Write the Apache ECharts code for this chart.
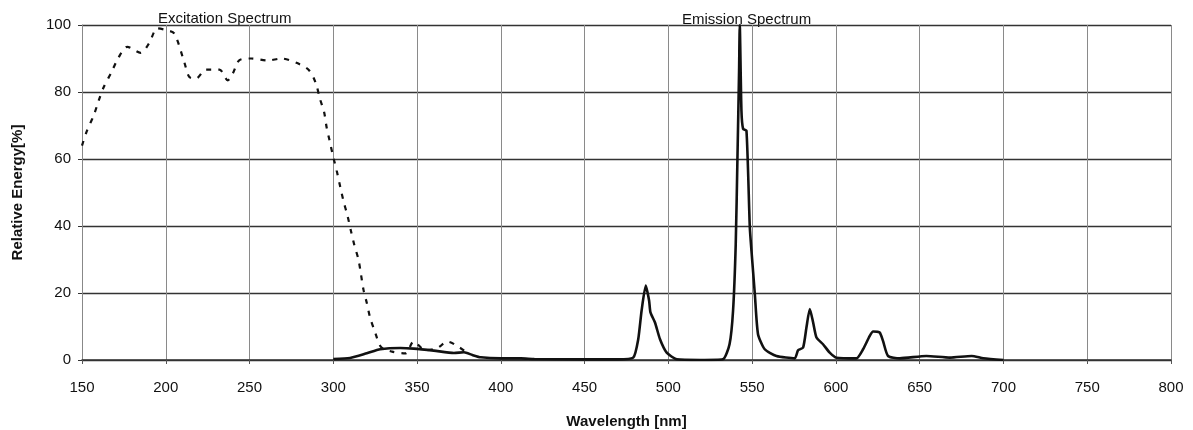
<html>
<head>
  <meta charset="utf-8">
  <title>Excitation / Emission Spectrum</title>
  <script src="https://cdn.jsdelivr.net/npm/echarts@6/dist/echarts.min.js"></script>
  <style>
    html,
    body {
      width: 100%;
      height: 100%;
      margin: 0;
      background: #fff;
    }

    #chart {
      width: 1193px;
      height: 430px;
    }
  </style>
</head>
<body>
  <div id="chart"></div>
  <script>
    // excitation spectrum (dashed)
    var excitationWl = [150, 153, 157, 160, 163, 167.5, 171.5, 177, 185, 190, 195, 200, 205, 211, 214, 218, 224, 232, 237, 240,
      244, 251, 261, 269, 278, 285.5, 289.5, 292, 294.5, 296, 298, 300, 302, 304, 306, 308.5, 310.5, 312.5, 315, 316.5,
      318, 320, 322, 325, 328.5, 335, 343, 348, 355, 362.5, 368, 375.5, 379.5];
    var excitationVal = [64, 68.5, 73, 77.5, 81.5, 85.8, 90, 93.5, 91.7, 94.5, 99, 98.5, 97.5, 89, 84.5, 84, 86.7, 86.7, 83.5, 85.5,
      89.5, 90, 89.4, 90, 88.7, 86.5, 82.7, 78, 74, 69.5, 65, 60.5, 56.6, 52, 47.6, 43, 38.6, 34.4, 30, 25.6,
      21, 17, 12.6, 8.2, 3.9, 2.5, 2, 5.5, 2.9, 3.7, 5.5, 3.7, 2.2];

    // emission spectrum (solid)
    var emissionWl = [300, 310, 320, 328, 340, 348, 360, 372, 378, 383, 388, 400, 412, 420, 450, 470, 479, 482, 484, 486.5,
      488.5, 489.3, 492, 495, 499, 505, 519, 532.5, 536.5, 538.6, 540.2, 541.2, 542.2, 542.6, 543.6, 544.6, 546.6, 548.6, 549.6, 551.6,
      553.5, 557.5, 564.5, 575.4, 577.4, 580.4, 582.4, 584.4, 586.4, 588.4, 592.3, 596.3, 600.3, 612.2, 616.2, 620.2, 622.2, 626.1, 628.1, 631.1,
      638.1, 654, 668, 681, 688, 700];
    var emissionVal = [0.3, 0.6, 2, 3.2, 3.6, 3.4, 2.8, 2.1, 2.3, 1.5, 0.8, 0.5, 0.5, 0.3, 0.2, 0.2, 0.7, 6.2, 14.7, 22.2,
      17.7, 14.2, 11.2, 6.2, 2.2, 0.2, 0, 0.2, 4.7, 14.7, 34.6, 59.6, 86.5, 100, 74.5, 69, 68.5, 39.6, 32.6, 19.7,
      7.7, 3.2, 1.2, 0.5, 2.9, 3.7, 9.7, 15.2, 11.2, 6.7, 4.7, 2.2, 0.7, 0.5, 3.2, 7.2, 8.5, 8.2, 5.7, 1.2,
      0.5, 1.2, 0.7, 1.2, 0.5, 0];

    var spectrumNames = ['Excitation Spectrum', 'Emission Spectrum'];

    function zip(xs, ys) {
      return xs.map(function (x, i) { return [x, ys[i]]; });
    }

    var font = 'Liberation Sans, Arial, sans-serif';
    var myChart = echarts.init(document.getElementById('chart'));

    var option = {
      animation: false,
      grid: { left: 82, right: 22, top: 25, bottom: 70, containLabel: false, outerBoundsMode: 'none' },
      xAxis: {
        type: 'value',
        min: 150,
        max: 800,
        interval: 50,
        name: 'Wavelength [nm]',
        nameLocation: 'middle',
        nameGap: 54,
        nameTextStyle: { fontFamily: font, fontSize: 15, fontWeight: 'bold', color: '#111' },
        axisLine: { onZero: false, lineStyle: { color: '#333', width: 1.5 } },
        axisTick: { show: true, length: 4, lineStyle: { color: '#555' } },
        axisLabel: { margin: 20, fontFamily: font, fontSize: 15, color: '#111' },
        splitLine: { show: true, lineStyle: { color: '#8a8a8a', width: 1 } }
      },
      yAxis: {
        type: 'value',
        min: 0,
        max: 100,
        interval: 20,
        name: 'Relative Energy[%]',
        nameLocation: 'middle',
        nameGap: 57,
        nameTextStyle: { fontFamily: font, fontSize: 15, fontWeight: 'bold', color: '#111' },
        axisLine: { show: true, lineStyle: { color: '#888', width: 1 } },
        axisTick: { show: true, length: 4, lineStyle: { color: '#333' } },
        axisLabel: { margin: 11, fontFamily: font, fontSize: 15, color: '#111' },
        splitLine: { show: true, lineStyle: { color: '#333', width: 1.3 } }
      },
      graphic: [
        {
          type: 'text', left: 158, top: 11,
          style: { text: spectrumNames[0], fontFamily: font, fontSize: 15, fill: '#111' }
        },
        {
          type: 'text', left: 682, top: 12,
          style: { text: spectrumNames[1], fontFamily: font, fontSize: 15, fill: '#111' }
        }
      ],
      series: [
        {
          name: spectrumNames[0],
          type: 'line',
          data: zip(excitationWl, excitationVal),
          showSymbol: false,
          smooth: 0.3,
          lineStyle: { color: '#111', width: 2.2, type: [5, 7] },
          z: 3
        },
        {
          name: spectrumNames[1],
          type: 'line',
          data: zip(emissionWl, emissionVal),
          showSymbol: false,
          smooth: 0.2,
          lineStyle: { color: '#111', width: 2.6 },
          z: 4
        }
      ]
    };
    myChart.setOption(option);
  </script>
</body>
</html>
